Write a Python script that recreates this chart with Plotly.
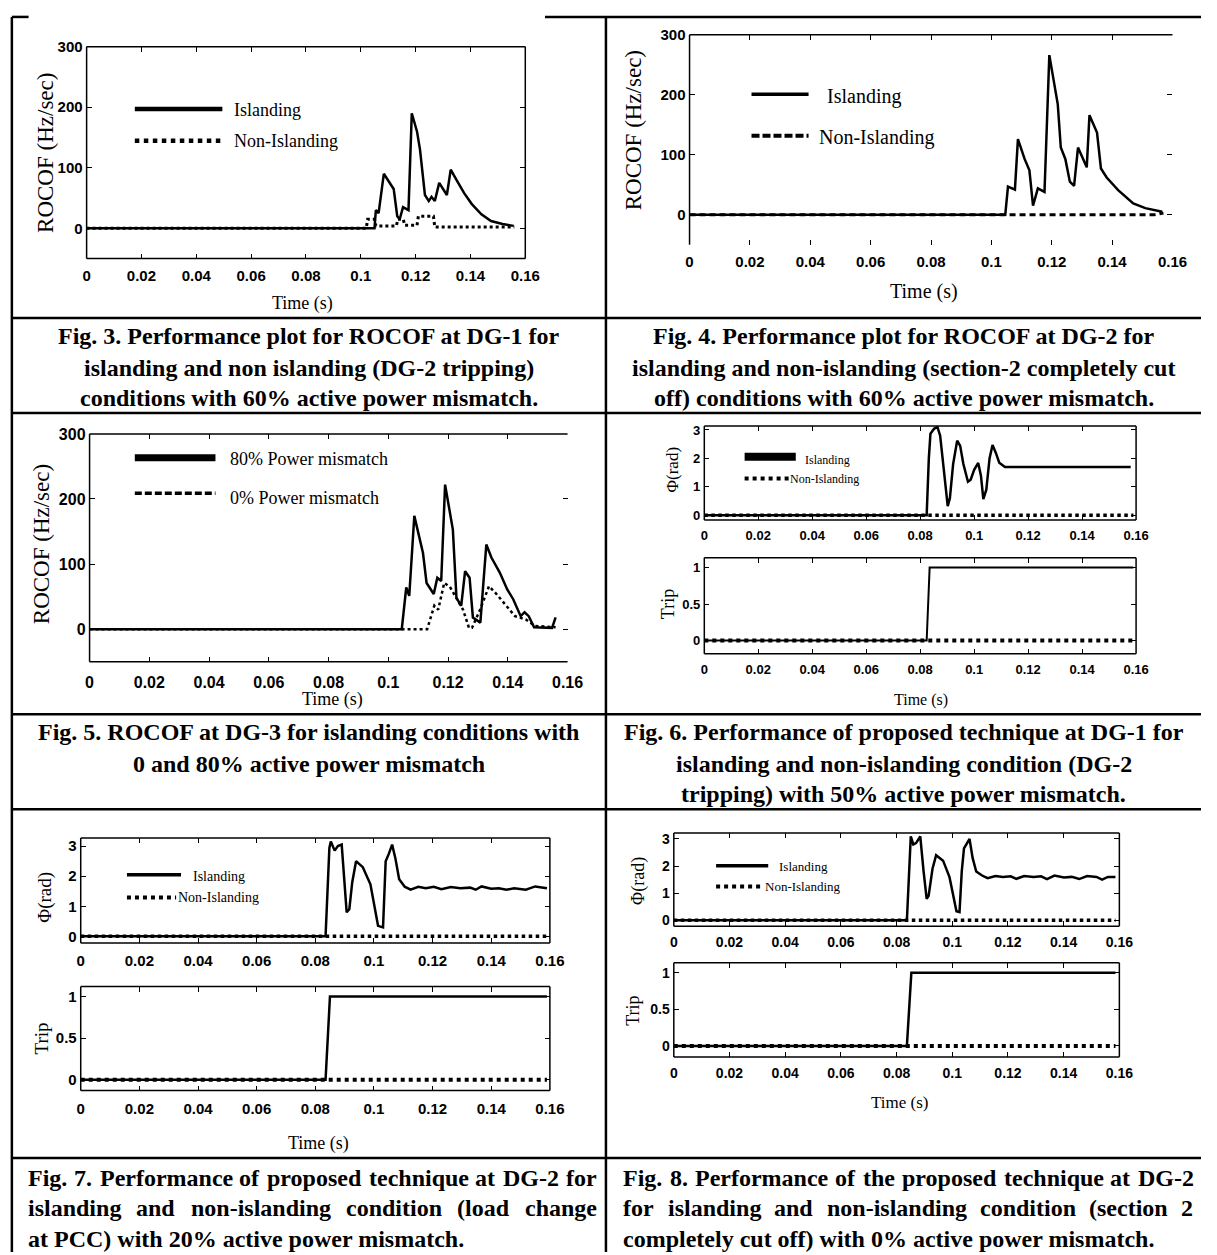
import plotly.graph_objects as go

W, H = 1217, 1255          # page size (reference pixel space)

# ---------------- data ----------------
TIME_TICKS = [0, 0.02, 0.04, 0.06, 0.08, 0.10, 0.12, 0.14, 0.16]
TIME_TICK_TEXT = ["0", "0.02", "0.04", "0.06", "0.08", "0.1", "0.12", "0.14", "0.16"]
ROCOF_TICKS = [0, 100, 200, 300]
PHI_TICKS = [0, 1, 2, 3]
TRIP_TICKS = [0, 0.5, 1]
TRIP_TICK_TEXT = ["0", "0.5", "1"]

# Fig. 3 - ROCOF at DG-1
fig3_t_isl = [0, 0.105, 0.1055, 0.1065, 0.1084, 0.1105, 0.112, 0.1133, 0.1142, 0.1154, 0.1174, 0.1186,
              0.1205, 0.1216, 0.1234, 0.1248, 0.1258, 0.127, 0.1286, 0.1314, 0.1328, 0.1349, 0.1377,
              0.1405, 0.144, 0.1475, 0.1517, 0.1558]
fig3_v_isl = [0, 0, 30, 25, 90, 75, 65, 20, 15, 35, 30, 190,
              160, 130, 55, 45, 52, 45, 75, 55, 97, 80, 58,
              40, 23, 12, 7, 4]
fig3_t_non = [0, 0.102, 0.1025, 0.105, 0.1055, 0.113, 0.1135, 0.1155, 0.116, 0.1205, 0.121, 0.1265, 0.127, 0.156]
fig3_v_non = [0, 0, 15, 15, 4, 4, 15, 15, 5, 5, 20, 20, 2, 2]

# Fig. 4 - ROCOF at DG-2
fig4_t_isl = [0, 0.1046, 0.1055, 0.1078, 0.1088, 0.111, 0.1126, 0.1138, 0.1154, 0.1176, 0.1192, 0.122,
              0.123, 0.1245, 0.126, 0.1274, 0.1287, 0.1316, 0.1325, 0.135, 0.1363, 0.1382, 0.142,
              0.147, 0.151, 0.1566]
fig4_v_isl = [0, 0, 47, 42, 126, 93, 74, 15, 44, 38, 266, 184,
              112, 93, 55, 48, 112, 79, 166, 137, 77, 62, 41,
              19, 11, 5]
fig4_t_non = [0, 0.154, 0.157]
fig4_v_non = [0, 0, 3]

# Fig. 5 - ROCOF at DG-3
fig5_t_80 = [0, 0.1045, 0.106, 0.107, 0.1087, 0.110, 0.1116, 0.1128, 0.1152, 0.1164, 0.1177, 0.119,
             0.1203, 0.1216, 0.1228, 0.1244, 0.1257, 0.1272, 0.1283, 0.1308, 0.1328, 0.1345, 0.1373,
             0.1398, 0.1418, 0.1443, 0.1456, 0.147, 0.1488, 0.154, 0.1548, 0.156]
fig5_v_80 = [0, 0, 64, 51, 174, 150, 117, 71, 54, 79, 74, 222,
             189, 153, 48, 36, 89, 79, 18, 10, 130, 110, 87,
             61, 46, 20, 26, 20, 3, 3, 2, 18]
fig5_t_0 = [0, 0.113, 0.1154, 0.1167, 0.1187, 0.1206, 0.123, 0.125, 0.127, 0.128, 0.1308, 0.1337,
            0.136, 0.1385, 0.1424, 0.146, 0.149, 0.156]
fig5_v_0 = [0, 0, 36, 30, 71, 65, 46, 30, 2, 2, 31, 66,
            55, 41, 20, 15, 5, 3]

# Fig. 6 - DG-1 phase angle and trip
fig6_t_phi = [0, 0.0824, 0.0832, 0.0838, 0.0852, 0.0864, 0.0874, 0.0885, 0.0895, 0.0902, 0.091, 0.0922,
              0.0937, 0.0948, 0.096, 0.0977, 0.0987, 0.1, 0.1015, 0.1025, 0.1034, 0.1045, 0.1057,
              0.1068, 0.108, 0.1093, 0.1114, 0.158]
fig6_v_phi = [0, 0, 2.0, 2.87, 3.05, 3.1, 2.8, 1.8, 0.8, 0.32, 0.6, 1.8,
              2.62, 2.45, 1.8, 1.18, 1.25, 1.6, 1.84, 1.4, 0.57, 0.9, 2.0,
              2.47, 2.2, 1.85, 1.7, 1.7]
fig6_t_trip = [0, 0.0824, 0.0835, 0.159]
fig6_v_trip = [0, 0, 1, 1]
fig6_t_non = [0, 0.159]
fig6_v_non = [0, 0]

# Fig. 7 - DG-2 phase angle and trip (load change at PCC)
fig7_t_phi = [0, 0.0835, 0.0848, 0.0853, 0.0866, 0.0877, 0.089, 0.0899, 0.0907, 0.0916, 0.0926, 0.0939,
              0.0962, 0.0988, 0.1001, 0.1014, 0.1031, 0.104, 0.1051, 0.1062, 0.1073, 0.1086, 0.1105,
              0.1125, 0.1151, 0.1177, 0.1204, 0.123, 0.1262, 0.1295, 0.1328, 0.1347, 0.1367, 0.14,
              0.1426, 0.1452, 0.1478, 0.1518, 0.155, 0.159]
fig7_v_phi = [0, 0, 2.94, 3.15, 2.85, 3.0, 3.05, 1.8, 0.8, 0.9, 1.8, 2.5,
              2.3, 1.73, 1.0, 0.35, 0.3, 2.5, 2.75, 3.05, 2.6, 1.9, 1.65,
              1.55, 1.65, 1.6, 1.65, 1.57, 1.64, 1.6, 1.62, 1.55, 1.66, 1.58,
              1.6, 1.55, 1.6, 1.55, 1.66, 1.6]
fig7_t_trip = [0, 0.0835, 0.085, 0.159]
fig7_v_trip = [0, 0, 1, 1]
fig7_t_non = [0, 0.159]
fig7_v_non = [0, 0]

# Fig. 8 - DG-2 phase angle and trip (section 2 cut off)
fig8_t_phi = [0, 0.0837, 0.0851, 0.086, 0.087, 0.0878, 0.0885, 0.0897, 0.0908, 0.0915, 0.0929, 0.0942,
              0.0967, 0.099, 0.1004, 0.1015, 0.1026, 0.1034, 0.1042, 0.1062, 0.1073, 0.1086, 0.1107,
              0.1127, 0.1155, 0.1182, 0.121, 0.123, 0.1258, 0.1292, 0.1319, 0.134, 0.1367, 0.1401,
              0.1429, 0.1456, 0.1484, 0.1518, 0.1538, 0.1559, 0.1586]
fig8_v_phi = [0, 0, 3.1, 2.8, 2.85, 3.0, 3.1, 1.8, 0.79, 0.9, 1.9, 2.4,
              2.2, 1.59, 0.9, 0.33, 0.3, 1.8, 2.65, 3.0, 2.3, 1.8, 1.65,
              1.55, 1.63, 1.6, 1.62, 1.53, 1.63, 1.6, 1.62, 1.52, 1.65, 1.58,
              1.6, 1.52, 1.63, 1.6, 1.5, 1.6, 1.6]
fig8_t_trip = [0, 0.0837, 0.0853, 0.1586]
fig8_v_trip = [0, 0, 1, 1]
fig8_t_non = [0, 0.1586]
fig8_v_non = [0, 0]

CAP3 = ["Fig. 3. Performance plot for ROCOF at DG-1 for",
        "islanding and non islanding (DG-2 tripping)",
        "conditions with 60% active power mismatch."]
CAP4 = ["Fig. 4. Performance plot for ROCOF at DG-2 for",
        "islanding and non-islanding (section-2 completely cut",
        "off) conditions with 60% active power mismatch."]
CAP5 = ["Fig. 5. ROCOF at DG-3 for islanding conditions with",
        "0 and 80% active power mismatch"]
CAP6 = ["Fig. 6. Performance of proposed technique at DG-1 for",
        "islanding and non-islanding condition (DG-2",
        "tripping) with 50% active power mismatch."]
CAP7 = ["Fig. 7. Performance of proposed technique at DG-2 for",
        "islanding and non-islanding condition (load change",
        "at PCC) with 20% active power mismatch."]
CAP8 = ["Fig. 8. Performance of the proposed technique at DG-2",
        "for islanding and non-islanding condition (section 2",
        "completely cut off) with 0% active power mismatch."]

# ---------------- helpers (page pixel -> paper) ----------------
def px(x):
    return x / W

def py(y):
    return 1 - y / H

def dom_x(x0, x1):
    return [px(x0), px(x1)]

def dom_y(y0, y1):
    return [py(y1), py(y0)]

SERIF = "Liberation Serif"
SANS = "Liberation Sans"

fig = go.Figure()
shapes = []
annotations = []

def add_line(n, t, v, width, dash="solid"):
    fig.add_trace(go.Scatter(x=t, y=v, mode="lines", showlegend=False, hoverinfo="skip",
                             line=dict(color="black", width=width, dash=dash),
                             xaxis="x" if n == 1 else f"x{n}", yaxis="y" if n == 1 else f"y{n}"))

axes_cfg = {}

def set_axes(n, xd, yd, yrange, ytv, yttxt, xfont, yfont, xstand):
    key = "" if n == 1 else str(n)
    tick_common = dict(ticks="inside", ticklen=5, tickwidth=1.2, tickcolor="black",
                       showline=False, mirror="ticks", showgrid=False, zeroline=False)
    axes_cfg["xaxis" + key] = dict(domain=dom_x(*xd), anchor="y" + key, range=[0, 0.16],
                                   tickvals=TIME_TICKS, ticktext=TIME_TICK_TEXT,
                                   tickfont=dict(family=SANS, size=xfont, color="black", weight="bold"),
                                   ticklabelstandoff=xstand, **tick_common)
    axes_cfg["yaxis" + key] = dict(domain=dom_y(*yd), anchor="x" + key, range=yrange,
                                   tickvals=ytv, ticktext=yttxt,
                                   tickfont=dict(family=SANS, size=yfont, color="black", weight="bold"),
                                   ticklabelstandoff=3, **tick_common)

def frame(n, sides, width=1.5):
    key = "" if n == 1 else str(n)
    xr, yr = f"x{key} domain", f"y{key} domain"
    segs = {"left": (0, 0, 0, 1), "right": (1, 0, 1, 1), "top": (0, 1, 1, 1), "bottom": (0, 0, 1, 0)}
    for s in sides:
        x0, y0, x1, y1 = segs[s]
        shapes.append(dict(type="line", xref=xr, yref=yr, x0=x0, y0=y0, x1=x1, y1=y1,
                           line=dict(color="black", width=width)))

def text(s, x, y, size, family=SERIF, anchor="center", angle=0, bold=False):
    annotations.append(dict(text=s, x=px(x), y=py(y), xref="paper", yref="paper", showarrow=False,
                            xanchor=anchor, yanchor="middle", textangle=angle,
                            font=dict(family=family, size=size, color="black",
                                      weight="bold" if bold else "normal")))

def seg(x0, y0, x1, y1, width, dash="solid"):
    shapes.append(dict(type="line", xref="paper", yref="paper", x0=px(x0), y0=py(y0), x1=px(x1), y1=py(y1),
                       line=dict(color="black", width=width, dash=dash)))

# Times-Bold metrics for justification of captions
TB = {' ': 250, '(': 333, ')': 333, '-': 333, '.': 250, '%': 1000, ',': 250,
      'A': 722, 'C': 722, 'D': 722, 'F': 611, 'G': 778, 'O': 778, 'P': 611, 'R': 722,
      'a': 500, 'b': 556, 'c': 444, 'd': 556, 'e': 444, 'f': 333, 'g': 500, 'h': 556, 'i': 278,
      'j': 333, 'k': 556, 'l': 278, 'm': 833, 'n': 556, 'o': 500, 'p': 556, 'q': 556, 'r': 444,
      's': 389, 't': 333, 'u': 556, 'v': 500, 'w': 722, 'x': 500, 'y': 500, 'z': 444}

def tw(s, size):
    return sum(TB.get(c, 500) for c in s) / 1000 * size

CAP_SIZE = 24

def caption_center(lines, xc, ys):
    for ln, y in zip(lines, ys):
        text(ln, xc, y, CAP_SIZE, bold=True)

def caption_justify(lines, x0, x1, ys):
    for i, (ln, y) in enumerate(zip(lines, ys)):
        if i == len(lines) - 1:
            text(ln, x0, y, CAP_SIZE, anchor="left", bold=True)
            continue
        words = ln.split(" ")
        widths = [tw(w, CAP_SIZE) for w in words]
        gap = (x1 - x0 - sum(widths)) / (len(words) - 1)
        x = x0
        for w, wd in zip(words, widths):
            text(w, x, y, CAP_SIZE, anchor="left", bold=True)
            x += wd + gap

# ---------------- Fig. 3 ----------------
set_axes(1, (84, 530), (38, 252), [-50, 300], ROCOF_TICKS, [str(v) for v in ROCOF_TICKS], 15, 15, 6)
add_line(1, fig3_t_isl, fig3_v_isl, 2.5)
add_line(1, fig3_t_non, fig3_v_non, 3, "dot")
frame(1, ["left", "right", "top", "bottom"])
seg(133, 101, 222, 101, 4.5)
seg(133, 133, 222, 133, 4.5, "dot")
text("Islanding", 232, 102, 18, anchor="left")
text("Non-Islanding", 232, 133, 18, anchor="left")
text("ROCOF (Hz/sec)", 42, 145, 23, angle=-90)
text("Time (s)", 303, 297, 18)

# ---------------- Fig. 4 ----------------
set_axes(2, (697, 1188), (26, 238), [-50, 300], ROCOF_TICKS, [str(v) for v in ROCOF_TICKS], 15, 15, 6)
add_line(2, fig4_t_isl, fig4_v_isl, 2.5)
add_line(2, fig4_t_non, fig4_v_non, 3, "6px,4px")
frame(2, ["left", "top"])
seg(760, 86, 818, 86, 3.5)
seg(760, 128, 818, 128, 4, "8px,3px")
text("Islanding", 835, 88, 20, anchor="left")
text("Non-Islanding", 827, 130, 20, anchor="left")
text("ROCOF (Hz/sec)", 640, 122, 23, angle=-90)
text("Time (s)", 935, 285, 20)

# ---------------- Fig. 5 ----------------
set_axes(3, (87, 573), (429, 659), [-50, 300], ROCOF_TICKS, [str(v) for v in ROCOF_TICKS], 16, 16, 9)
add_line(3, fig5_t_80, fig5_v_80, 2.5)
add_line(3, fig5_t_0, fig5_v_0, 2.5, "dot")
frame(3, ["left", "top", "bottom"])
seg(133, 453, 215, 453, 7)
seg(133, 489, 215, 489, 3.5, "7px,3px")
text("80% Power mismatch", 228, 454, 18, anchor="left")
text("0% Power mismatch", 228, 494, 18, anchor="left")
text("ROCOF (Hz/sec)", 38, 540, 23, angle=-90)
text("Time (s)", 334, 697, 18)

# ---------------- Fig. 6 ----------------
set_axes(4, (712, 1151), (421, 516), [-0.17, 3.14], PHI_TICKS, [str(v) for v in PHI_TICKS], 13, 13, 6)
set_axes(5, (712, 1151), (554, 651), [-0.18, 1.135], TRIP_TICKS, TRIP_TICK_TEXT, 13, 13, 6)
add_line(4, fig6_t_phi, fig6_v_phi, 2.5)
add_line(4, fig6_t_non, fig6_v_non, 3.5, "dot")
add_line(5, fig6_t_trip, fig6_v_trip, 2)
add_line(5, fig6_t_non, fig6_v_non, 4, "dot")
frame(4, ["left", "right", "top", "bottom"])
frame(5, ["left", "right", "top", "bottom"])
seg(753, 452, 805, 452, 8)
seg(753, 474, 800, 474, 4, "dot")
text("Islanding", 812, 455, 12, anchor="left")
text("Non-Islanding", 797, 475, 12, anchor="left")
text("Φ(rad)", 680, 465, 17, angle=-90)
text("Trip", 675, 601, 18, angle=-90)
text("Time (s)", 932, 698, 16)

# ---------------- Fig. 7 ----------------
set_axes(6, (78, 555), (837, 943), [-0.22, 3.27], PHI_TICKS, [str(v) for v in PHI_TICKS], 15, 15, 7)
set_axes(7, (78, 555), (987, 1092), [-0.13, 1.12], TRIP_TICKS, TRIP_TICK_TEXT, 15, 15, 7)
add_line(6, fig7_t_phi, fig7_v_phi, 2.5)
add_line(6, fig7_t_non, fig7_v_non, 3.5, "dot")
add_line(7, fig7_t_trip, fig7_v_trip, 2.5)
add_line(7, fig7_t_non, fig7_v_non, 4, "dot")
frame(6, ["left", "right", "top", "bottom"])
frame(7, ["left", "right", "top", "bottom"])
seg(125, 874, 180, 874, 3.5)
seg(125, 897, 175, 897, 4, "dot")
text("Islanding", 190, 876, 14, anchor="left")
text("Non-Islanding", 175, 897, 14, anchor="left")
text("Φ(rad)", 42, 897, 19, angle=-90)
text("Trip", 38, 1039, 19, angle=-90)
text("Time (s)", 320, 1145, 18)

# ---------------- Fig. 8 ----------------
set_axes(8, (681, 1134), (832, 926), [-0.22, 3.22], PHI_TICKS, [str(v) for v in PHI_TICKS], 14, 14, 6)
set_axes(9, (681, 1134), (963, 1058), [-0.15, 1.135], TRIP_TICKS, TRIP_TICK_TEXT, 14, 14, 6)
add_line(8, fig8_t_phi, fig8_v_phi, 2.5)
add_line(8, fig8_t_non, fig8_v_non, 3.5, "dot")
add_line(9, fig8_t_trip, fig8_v_trip, 2.5)
add_line(9, fig8_t_non, fig8_v_non, 4, "dot")
frame(8, ["left", "right", "top", "bottom"])
frame(9, ["left", "right", "top", "bottom"])
seg(724, 865, 777, 865, 3.5)
seg(724, 886, 772, 886, 4, "dot")
text("Islanding", 786, 866, 13, anchor="left")
text("Non-Islanding", 772, 886, 13, anchor="left")
text("Φ(rad)", 645, 880, 18, angle=-90)
text("Trip", 640, 1011, 18, angle=-90)
text("Time (s)", 910, 1104, 17)

# ---------------- captions ----------------
caption_center(CAP3, 310, [330, 362, 393])
caption_center(CAP4, 915, [330, 362, 393])
caption_center(CAP5, 310, [730, 762])
caption_center(CAP6, 915, [730, 762, 793])
caption_justify(CAP7, 22, 600, [1180, 1211, 1242])
caption_justify(CAP8, 627, 1207, [1180, 1211, 1242])

# ---------------- table rules ----------------
TW = 2.5
seg(8, 8, 25, 8, TW)
seg(550, 8, 1217, 8, TW)
seg(8, 8, 8, 1255, TW)
seg(612, 8, 612, 1255, TW)
for yy in [312, 408, 712, 808, 1160]:
    seg(8, yy, 1217, yy, TW)

fig.update_layout(width=W, height=H, autosize=False,
                  margin=dict(l=0, r=0, t=0, b=0, pad=0),
                  paper_bgcolor="white", plot_bgcolor="white",
                  shapes=shapes, annotations=annotations, **axes_cfg)

fig.write_html("out.html", config={"displayModeBar": False},
               post_script="document.body.style.margin='0';document.body.style.overflow='hidden';")
